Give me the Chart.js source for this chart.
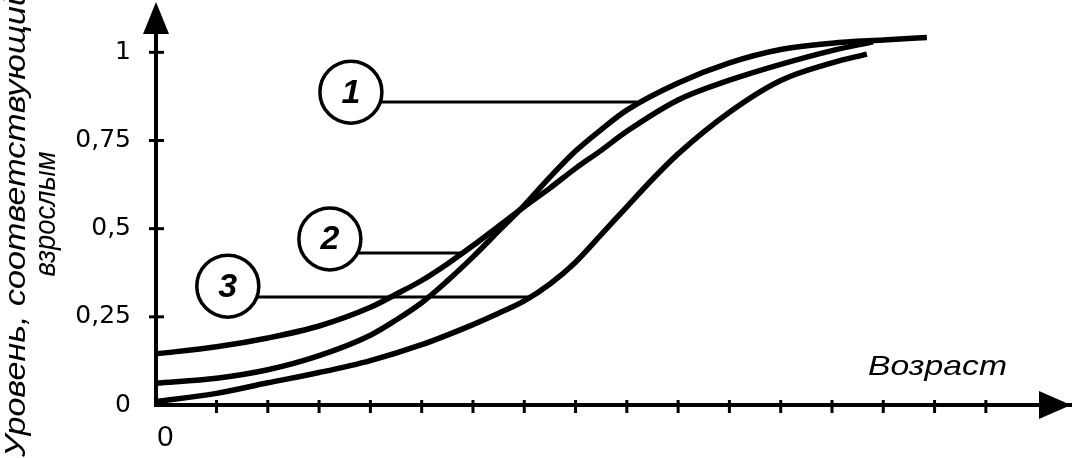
<!DOCTYPE html>
<html>
<head>
<meta charset="utf-8">
<script src="https://cdn.jsdelivr.net/npm/chart.js@4.4.1/dist/chart.umd.min.js"></script>
<style>
  html, body { margin: 0; padding: 0; background: #fff; }
  #wrap { width: 1074px; height: 458px; }
</style>
</head>
<body>
<div id="wrap"><canvas id="ageChart" width="1074" height="458"></canvas></div>
<script>
// curve values: age on x, level (share of adult level) on y
const age1   = [-0.18, 1, 2, 3, 4, 4.5, 5, 5.5, 6, 6.5, 7, 7.5, 8, 8.5, 9, 10, 11, 12, 13, 14, 14.85];
const level1 = [0.062, 0.076, 0.10, 0.14, 0.198, 0.241, 0.29, 0.352, 0.42, 0.493, 0.566, 0.646, 0.72, 0.781, 0.836, 0.913, 0.97, 1.008, 1.026, 1.035, 1.042];

const age2   = [-0.18, 1, 2, 3, 4, 4.5, 5, 5.5, 6, 6.5, 7, 7.5, 8, 8.5, 9, 10, 11, 12, 13, 13.8];
const level2 = [0.145, 0.165, 0.19, 0.224, 0.277, 0.314, 0.353, 0.40, 0.452, 0.507, 0.562, 0.615, 0.671, 0.722, 0.776, 0.865, 0.921, 0.966, 1.005, 1.03];

const age3   = [-0.18, 1, 2, 3, 4, 5, 6, 6.5, 7, 7.5, 8, 8.5, 9, 9.5, 10, 11, 12, 13, 13.68];
const level3 = [0.01, 0.033, 0.063, 0.092, 0.126, 0.171, 0.228, 0.26, 0.295, 0.343, 0.405, 0.483, 0.562, 0.640, 0.712, 0.830, 0.920, 0.970, 0.995];

const xTicks = [0, 1, 2, 3, 4, 5, 6, 7, 8, 9, 10, 11, 12, 13, 14, 15, 16];
const xTickLabels = ['0', '', '', '', '', '', '', '', '', '', '', '', '', '', '', '', ''];
const yTicks = [0, 0.25, 0.5, 0.75, 1];
const yTickLabels = ['0', '0,25', '0,5', '0,75', '1'];

const curveNames = ['1', '2', '3'];
const xTitle = 'Возраст';
const yTitle = ['Уровень, соответствующий', 'взрослым'];

// numbered callouts: circle centre and leader line, in data units
const callouts = [
  { cx: 3.62, cy: 0.887, lineY: 0.859, endX: 9.2 },
  { cx: 3.21, cy: 0.471, lineY: 0.431, endX: 5.81 },
  { cx: 1.22, cy: 0.337, lineY: 0.306, endX: 7.13 }
];

const SANS = 'Arial, "Liberation Sans", Helvetica, sans-serif';
const toPoints = (xs, ys) => xs.map((x, i) => ({ x: x, y: ys[i] }));

function stretchedText(ctx, text, x, y, font, width, angle, align) {
  ctx.save();
  ctx.font = font;
  const w = ctx.measureText(text).width;
  ctx.translate(x, y);
  ctx.rotate(angle);
  ctx.scale(width / w, 1);
  ctx.textAlign = align;
  ctx.textBaseline = 'alphabetic';
  ctx.fillText(text, 0, 0);
  ctx.restore();
}

const decor = {
  id: 'decor',
  afterDatasetsDraw(chart) {
    const { ctx, chartArea: a, scales: { x, y } } = chart;
    ctx.save();
    ctx.strokeStyle = '#000';
    ctx.fillStyle = '#000';

    // ticks crossing the axes
    ctx.lineWidth = 3;
    xTicks.forEach(v => {
      if (v === 0) return;
      const px = x.getPixelForValue(v);
      ctx.beginPath(); ctx.moveTo(px, a.bottom - 5); ctx.lineTo(px, a.bottom + 8); ctx.stroke();
    });
    yTicks.forEach(v => {
      if (v === 0) return;
      const py = y.getPixelForValue(v);
      ctx.beginPath(); ctx.moveTo(a.left - 7, py); ctx.lineTo(a.left + 8, py); ctx.stroke();
    });

    // arrow heads
    ctx.beginPath();
    ctx.moveTo(a.right, a.bottom);
    ctx.lineTo(a.right - 32, a.bottom - 14);
    ctx.lineTo(a.right - 32, a.bottom + 14);
    ctx.closePath(); ctx.fill();
    ctx.beginPath();
    ctx.moveTo(a.left, a.top - 8);
    ctx.lineTo(a.left - 13, a.top + 24);
    ctx.lineTo(a.left + 13, a.top + 24);
    ctx.closePath(); ctx.fill();

    // callouts
    callouts.forEach((c, i) => {
      const cx = x.getPixelForValue(c.cx), cy = y.getPixelForValue(c.cy);
      const ly = y.getPixelForValue(c.lineY), ex = x.getPixelForValue(c.endX);
      ctx.lineWidth = 3;
      ctx.beginPath(); ctx.moveTo(cx, ly); ctx.lineTo(ex, ly); ctx.stroke();
      ctx.lineWidth = 3.5;
      ctx.beginPath(); ctx.arc(cx, cy, 31, 0, Math.PI * 2);
      ctx.fillStyle = '#fff'; ctx.fill(); ctx.stroke();
      ctx.fillStyle = '#000';
      ctx.font = 'italic bold 34px ' + SANS;
      ctx.textAlign = 'center'; ctx.textBaseline = 'middle';
      ctx.fillText(curveNames[i], cx, cy + 1);
    });

    // titles
    stretchedText(ctx, xTitle, 868, 375, 'italic 28px ' + SANS, 139, 0, 'left');
    stretchedText(ctx, yTitle[0], 25, 457, 'italic 30px ' + SANS, 470, -Math.PI / 2, 'left');
    stretchedText(ctx, yTitle[1], 55, 214, 'italic 30px ' + SANS, 125, -Math.PI / 2, 'center');
    ctx.restore();
  }
};

const line = { borderColor: '#000', borderWidth: 5.5, pointRadius: 0, fill: false, cubicInterpolationMode: 'monotone' };

new Chart(document.getElementById('ageChart'), {
  type: 'line',
  data: {
    datasets: [
      Object.assign({ label: curveNames[0], data: toPoints(age1, level1) }, line),
      Object.assign({ label: curveNames[1], data: toPoints(age2, level2) }, line),
      Object.assign({ label: curveNames[2], data: toPoints(age3, level3) }, line)
    ]
  },
  options: {
    responsive: false,
    animation: false,
    devicePixelRatio: 1,
    layout: { padding: { top: 10, right: 3, left: 0, bottom: 0 } },
    plugins: { legend: { display: false }, tooltip: { enabled: false } },
    scales: {
      x: {
        type: 'linear', min: -0.18, max: 17.66,
        afterFit: s => { s.height = 53; s.paddingLeft = 0; s.paddingRight = 0; },
        afterBuildTicks: s => { s.ticks = xTicks.map(v => ({ value: v })); },
        grid: { display: false },
        border: { display: true, color: '#000', width: 4 },
        ticks: {
          autoSkip: false, maxRotation: 0, padding: 8, color: '#000',
          font: { family: SANS, size: 29 },
          callback: (v, i) => xTickLabels[i]
        }
      },
      y: {
        type: 'linear', min: 0, max: 1.12,
        afterFit: s => { s.width = 156; s.paddingTop = 0; s.paddingBottom = 0; },
        afterBuildTicks: s => { s.ticks = yTicks.map(v => ({ value: v })); },
        grid: { display: false },
        border: { display: true, color: '#000', width: 4 },
        ticks: {
          autoSkip: false, padding: 17, color: '#000',
          font: { family: 'DejaVu Sans', size: 25 },
          callback: (v, i) => yTickLabels[i]
        }
      }
    }
  },
  plugins: [decor]
});
</script>
</body>
</html>
